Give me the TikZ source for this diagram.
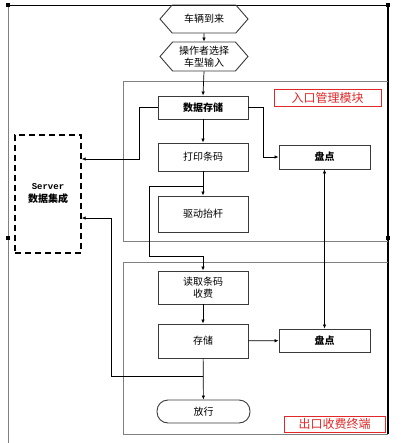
\documentclass[tikz,border=0pt]{standalone}
\usepackage{fontspec}
\setmainfont{Noto Sans CJK SC}
\newfontfamily\latinmono{Liberation Mono}
\usetikzlibrary{arrows.meta,positioning,shapes.symbols,calc}
\definecolor{linea}{HTML}{3A3A3A}
\definecolor{marco}{HTML}{808080}
\definecolor{rojo}{HTML}{E02828}
\begin{document}
\begin{tikzpicture}[x=1pt,y=-1pt,
  every node/.style={font=\fontsize{10}{12}\selectfont},
  paso/.style={draw=linea,line width=0.9pt,minimum width=90pt,inner sep=1pt,align=center},
  entrada/.style={draw=linea,line width=0.9pt,shape=signal,signal to=west and east,signal pointer angle=98,minimum width=88pt,minimum height=28pt,inner sep=1pt,align=center},
  etiqueta/.style={draw=rojo,line width=0.7pt,text=rojo,font=\fontsize{12}{14}\selectfont,inner sep=0pt},
  flecha/.style={line width=0.7pt,-{Latex[length=4pt,width=3.5pt]}},
  tirador/.style={fill=black,minimum size=4pt,inner sep=0pt}]
  \useasboundingbox (0,0) rectangle (400,443);
  % marcos
  \draw[marco,line width=0.7pt] (8,443) -- (8,5);
  \draw[black,line width=0.9pt] (8,5) -- (388,5);
  \draw[black,line width=1.3pt] (388,5) -- (388,434);
  \draw[marco,line width=0.8pt] (388,81) -- (123,81) -- (123,241) -- (388,241);
  \draw[marco,line width=0.8pt] (388,262) -- (123,262) -- (123,434) -- (388,434);
  \foreach \p in {(8,5),(388,5),(8,238),(388,238)}
    \node[tirador] at \p {};
  % nodos
  \node[entrada] (arrive) at (204,19) {车辆到来};
  \node[entrada,minimum height=29pt] (select) at (204,56.5) {操作者选择\\车型输入};
  \node[paso,minimum height=23pt,font=\fontsize{10}{12}\selectfont\bfseries] (store) at (203,107.5) {数据存储};
  \node[paso,minimum height=28pt] (print) at (203,157) {打印条码};
  \node[paso,minimum height=36pt] (lift) at (203,214) {驱动抬杆};
  \node[paso,minimum height=33pt] (read) at (203,287.5) {读取条码\\收费};
  \node[paso,minimum height=34pt] (save) at (203,341) {存储};
  \node[draw=linea,line width=0.9pt,rounded corners=11pt,minimum width=93pt,minimum height=23pt] (release) at (203.5,411.5) {放行};
  \node[paso,minimum width=91pt,minimum height=24pt,font=\fontsize{10}{12}\selectfont\bfseries] (countin) at (324.5,157) {盘点};
  \node[paso,minimum width=91pt,minimum height=23pt,font=\fontsize{10}{12}\selectfont\bfseries] (countout) at (324.5,340.5) {盘点};
  \node[draw=black,line width=1.4pt,dash pattern=on 6pt off 4pt,minimum width=66pt,minimum height=118pt,align=center,font=\fontsize{10}{13}\selectfont\bfseries] (server) at (48,194) {{\latinmono\fontsize{9}{13}\selectfont Server}\\数据集成};
  \node[etiqueta,minimum width=107pt,minimum height=17pt] (labelin) at (327.5,97.5) {入口管理模块};
  \node[etiqueta,minimum width=101pt,minimum height=16pt] (labelout) at (334.5,424) {出口收费终端};
  % puntos de union
  \coordinate (j1) at (203,186);
  \coordinate (j2) at (203,376);
  \coordinate (srvA) at (server.east |- 0,159);
  \coordinate (srvB) at (server.east |- 0,218);
  % conectores
  \draw[flecha] (arrive) -- (select);
  \draw[flecha] (select.south) -- (store.north);
  \draw[flecha] (store) -- (print);
  \draw[flecha] (print) -- (lift);
  \draw[flecha] (read) -- (save);
  \draw[flecha] (save) -- (release);
  \draw[flecha] (save) -- (countout);
  \draw[flecha] (store.west) -- (139,107.5) |- (srvA);
  \draw[flecha] (store.east) -- (263,107.5) |- (countin.west);
  \draw[flecha] (j1) -- (149,186) -- (149,256) -| (read.north);
  \draw[flecha] (j2) -- (111,376) |- (srvB);
  \draw[line width=0.7pt,{Latex[length=4pt,width=3.5pt]}-{Latex[length=4pt,width=3.5pt]}] (countin) -- (countout);
\end{tikzpicture}
\end{document}
